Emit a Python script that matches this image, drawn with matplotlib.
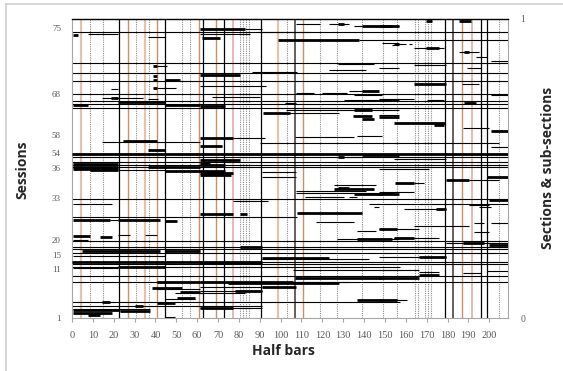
import matplotlib
matplotlib.use("Agg")
import matplotlib.pyplot as plt
from matplotlib.lines import Line2D

# ---------------- data ----------------
x_ticks = list(range(0, 201, 10))
session_labels = ["1", "11", "15", "20", "33", "36", "54", "58", "68", "75"]
session_pos = [0.0, 0.164, 0.211, 0.261, 0.401, 0.502, 0.552, 0.612, 0.749, 0.970]

# vertical markers (half-bar positions)
v_solid = [22.3, 44.8, 62.9, 72.9, 90.5, 178.9, 196.1, 198.7]
v_gray = [106.8, 182.7]
v_orange = [26.7, 40.6, 61.1, 68.8, 110.9, 186.8]
v_light = [4.4, 35.1, 98.8]
v_pink = [77.0, 191.6]
v_dotted = [8.6, 14.7, 30.8, 36.9, 52.5, 56.8, 80.7, 82.1, 83.4, 84.7, 102.9,
            118.9, 126.8, 139.0, 149.1, 156.0, 164.5, 166.0, 169.3, 170.7,
            172.2, 204.9]

# full-width thin lines
full_y = [0.958, 0.852, 0.818, 0.793, 0.748, 0.727, 0.716, 0.701, 0.537, 0.523,
          0.512, 0.506, 0.397, 0.259, 0.238, 0.230, 0.219, 0.180, 0.139, 0.119]

# thin partial segments
thin_y = [0.380, 0.380, 0.337, 0.186, 0.172, 0.055, 0.040, 0.984, 0.982, 0.976,
          0.965, 0.956, 0.949, 0.949, 0.939, 0.930, 0.921, 0.918, 0.918, 0.913,
          0.904, 0.891, 0.874, 0.860, 0.848, 0.847, 0.843, 0.835, 0.835, 0.829,
          0.824, 0.781, 0.776, 0.770, 0.765, 0.760, 0.752, 0.752, 0.746, 0.746,
          0.740, 0.735, 0.731, 0.731, 0.729, 0.729, 0.718, 0.696, 0.685, 0.679,
          0.636, 0.606, 0.610, 0.602, 0.588, 0.584, 0.584, 0.576, 0.573, 0.540,
          0.532, 0.500, 0.495, 0.487, 0.473, 0.462, 0.451, 0.445, 0.426, 0.422,
          0.417, 0.406, 0.406, 0.391, 0.377, 0.370, 0.370, 0.366, 0.328, 0.320,
          0.318, 0.319, 0.308, 0.297, 0.291, 0.289, 0.276, 0.277, 0.267, 0.263,
          0.261, 0.252, 0.208, 0.203, 0.197, 0.166, 0.161, 0.161, 0.155, 0.157,
          0.149, 0.122, 0.105, 0.097, 0.090, 0.083, 0.064, 0.060, 0.060, 0.031,
          0.004, 0.034]
thin_x0 = [0.5, 142.6, 0.0, 90.9, 0.0, 0.0, 0.0, 107.2, 123.0, 135.4,
           82.8, 89.0, 7.7, 61.2, 36.4, 137.8, 148.8, 154.5, 161.7, 153.6,
           164.1, 185.6, 193.8, 201.0, 127.3, 164.1, 40.7, 147.4, 189.5, 123.0,
           86.1, 187.1, 61.2, 40.7, 18.7, 133.0, 107.2, 119.6, 135.4, 201.0,
           67.0, 14.4, 147.4, 36.4, 130.6, 170.3, 101.9, 102.4, 103.3, 147.4,
           187.6, 106.7, 136.8, 77.0, 14.4, 89.9, 154.5, 66.0, 201.0, 127.3,
           154.5, 147.4, 22.0, 90.9, 90.9, 190.4, 164.1, 125.8, 107.2, 147.4,
           107.2, 111.5, 133.0, 77.0, 190.4, 195.2, 145.0, 159.3, 18.2, 117.2,
           192.8, 201.0, 164.1, 147.4, 136.8, 192.8, 22.0, 34.9, 154.5, 126.8,
           0.5, 179.4, 0.5, 147.4, 90.9, 0.5, 105.7, 147.4, 166.5, 199.0,
           187.6, 105.7, 61.2, 40.7, 61.2, 49.3, 44.5, 148.8, 147.4, 0.5,
           44.5, 61.2]
thin_x1 = [19.1, 209.0, 108.0, 209.0, 157.0, 157.0, 91.0, 118.7, 133.0, 156.9,
           90.9, 113.9, 22.0, 85.2, 44.5, 209.0, 156.9, 160.3, 163.2, 156.9,
           178.5, 195.2, 199.0, 209.0, 145.0, 179.4, 45.5, 156.9, 196.2, 141.1,
           107.7, 195.2, 92.8, 49.8, 22.0, 146.4, 115.8, 131.6, 148.8, 209.0,
           89.9, 34.0, 164.1, 41.1, 156.9, 178.5, 107.2, 156.9, 128.2, 156.9,
           200.0, 135.4, 148.8, 92.3, 61.2, 156.9, 204.8, 71.8, 209.0, 139.2,
           179.4, 171.3, 44.5, 107.2, 107.2, 204.8, 168.9, 145.9, 141.1, 164.1,
           154.5, 130.6, 136.8, 93.8, 200.0, 201.0, 147.4, 179.4, 22.0, 135.4,
           197.6, 209.0, 190.4, 166.5, 145.5, 200.0, 27.8, 40.7, 176.1, 156.9,
           7.7, 209.0, 44.5, 179.4, 142.6, 22.0, 156.9, 166.5, 176.1, 209.0,
           196.2, 133.0, 90.9, 61.2, 90.9, 82.8, 58.9, 156.9, 160.8, 37.3,
           49.3, 90.9]

# thick partial segments
thick_y = [0.994, 0.992, 0.982, 0.976, 0.978, 0.965, 0.947, 0.935, 0.930, 0.904,
           0.891, 0.843, 0.812, 0.809, 0.796, 0.796, 0.781, 0.770, 0.760, 0.735,
           0.722, 0.720, 0.712, 0.712, 0.709, 0.696, 0.685, 0.676, 0.671, 0.665,
           0.653, 0.645, 0.625, 0.602, 0.592, 0.576, 0.563, 0.550, 0.545, 0.540,
           0.528, 0.517, 0.516, 0.512, 0.506, 0.506, 0.498, 0.495, 0.492, 0.484,
           0.478, 0.472, 0.462, 0.451, 0.436, 0.430, 0.415, 0.415, 0.395, 0.363,
           0.352, 0.347, 0.347, 0.328, 0.328, 0.325, 0.297, 0.274, 0.270, 0.263,
           0.267, 0.252, 0.244, 0.236, 0.224, 0.224, 0.203, 0.199, 0.186, 0.183,
           0.172, 0.144, 0.133, 0.133, 0.122, 0.119, 0.116, 0.105, 0.099, 0.090,
           0.088, 0.068, 0.060, 0.060, 0.054, 0.049, 0.040, 0.034, 0.027, 0.025,
           0.016, 0.010]
thick_x0 = [185.6, 169.9, 127.3, 139.2, 147.4, 61.2, 0.5, 62.2, 98.6, 169.9,
            188.0, 38.8, 61.2, 38.8, 44.5, 38.8, 164.1, 38.8, 139.2, 18.7,
            22.0, 188.0, 0.5, 44.5, 61.2, 135.4, 91.4, 134.9, 147.4, 138.8,
            154.5, 173.7, 201.0, 61.2, 24.4, 61.2, 36.4, 0.0, 139.2, 127.3,
            61.2, 61.2, 0.5, 61.2, 0.5, 36.4, 0.5, 8.6, 44.5, 61.2,
            61.2, 199.0, 179.4, 155.0, 127.3, 125.8, 135.4, 147.4, 200.0, 174.6,
            107.7, 61.2, 80.4, 0.5, 22.0, 44.5, 147.4, 0.5, 13.4, 136.8,
            154.5, 187.6, 200.0, 80.4, 4.8, 44.5, 166.5, 90.9, 0.0, 61.2,
            22.0, 166.5, 106.7, 147.4, 61.2, 40.7, 74.6, 90.9, 38.3, 78.0,
            51.7, 50.2, 136.8, 147.4, 14.4, 40.7, 30.1, 61.2, 0.5, 23.0,
            0.5, 7.7]
thick_x1 = [191.4, 172.7, 130.6, 153.6, 156.9, 82.8, 2.9, 70.8, 137.8, 176.1,
            190.4, 40.7, 80.4, 40.7, 51.7, 40.7, 179.4, 40.7, 147.4, 22.0,
            44.5, 193.8, 7.7, 61.2, 73.2, 144.0, 104.3, 144.0, 156.9, 145.0,
            178.9, 178.5, 209.0, 77.0, 40.7, 71.8, 44.5, 209.0, 156.9, 130.6,
            80.4, 66.0, 22.0, 73.2, 22.0, 61.2, 22.0, 22.0, 73.2, 77.0,
            76.1, 209.0, 190.4, 164.1, 133.0, 145.0, 148.8, 156.9, 209.0, 179.4,
            139.2, 77.0, 83.7, 18.2, 42.1, 50.2, 156.0, 8.6, 19.1, 153.6,
            164.1, 197.6, 209.0, 90.9, 42.1, 61.2, 179.4, 123.4, 90.9, 90.9,
            44.5, 176.1, 148.8, 166.5, 105.7, 61.2, 128.2, 107.2, 52.6, 90.9,
            61.2, 58.9, 148.8, 156.0, 18.2, 49.3, 34.0, 77.0, 23.0, 37.3,
            19.1, 13.4]

# ---------------- figure ----------------
W, H = 563, 371
fig = plt.figure(figsize=(W / 100, H / 100), dpi=100)
fig.patch.set_facecolor("white")
ax = fig.add_axes([72 / W, 1 - 318 / H, (508 - 72) / W, (318 - 19) / H])
ax.set_xlim(0, 209)
ax.set_ylim(0, 1)

ax.vlines(v_dotted, 0, 1, colors="#8C8C8C", linestyles=(0, (1, 1)), lw=0.8, zorder=1)
ax.vlines(v_light, 0, 1, colors="#E6C3A8", lw=1.6, zorder=1)
ax.vlines(v_pink, 0, 1, colors="#E8B9B5", lw=1.4, zorder=1)
ax.vlines(v_orange, 0, 1, colors="#CC9060", lw=1.0, zorder=1)
ax.vlines(v_gray, 0, 1, colors="#555555", lw=1.3, zorder=1)
ax.vlines(v_solid, 0, 1, colors="#000000", lw=0.9, zorder=1)

ax.hlines(full_y, 0, 209, colors="black", lw=0.8, zorder=2)
ax.hlines(thin_y, thin_x0, thin_x1, colors="black", lw=0.8, zorder=2)
ax.hlines(thick_y, thick_x0, thick_x1, colors="black", lw=2.0, zorder=3)

tick_font = "Liberation Serif"
ax.set_xticks(x_ticks)
ax.set_xticklabels([str(t) for t in x_ticks], fontsize=7.5, family=tick_font, color="#595959")
ax.tick_params(axis="x", direction="out", length=3, color="#A6A6A6", pad=6)
ax.set_yticks(session_pos)
ax.set_yticklabels(session_labels, fontsize=6.5, family=tick_font, color="#595959")
ax.tick_params(axis="y", length=0, pad=8)

for side in ["left", "right", "bottom"]:
    ax.spines[side].set_color("#A6A6A6")
    ax.spines[side].set_linewidth(0.8)
ax.spines["top"].set_color("black")
ax.spines["top"].set_linewidth(1.0)

ax2 = ax.twinx()
ax2.set_ylim(0, 1)
ax2.set_yticks([0, 1])
ax2.set_yticklabels(["0", "1"], fontsize=7, family=tick_font, color="#595959")
ax2.tick_params(axis="y", length=0, pad=9)
for s in ax2.spines.values():
    s.set_visible(False)

lab_font = "Open Sans"
fig.text(283 / W, 1 - 351 / H, "Half bars", ha="center", va="center",
         fontsize=10, fontweight="bold", family=lab_font, color="#262626")
fig.text(22 / W, 1 - 170 / H, "Sessions", ha="center", va="center", rotation=90,
         fontsize=10, fontweight="bold", family=lab_font, color="#262626")
fig.text(548 / W, 1 - 168 / H, "Sections & sub-sections", ha="center", va="center",
         rotation=90, fontsize=10, fontweight="bold", family=lab_font, color="#262626")

# chart-area border
fig.add_artist(Line2D([6 / W, 6 / W], [0, 1 - 4 / H], transform=fig.transFigure,
                      color="#D0D0D0", lw=1.2))
fig.add_artist(Line2D([6 / W, 1], [1 - 4 / H, 1 - 4 / H], transform=fig.transFigure,
                      color="#D0D0D0", lw=1.2))

fig.savefig("out.png", dpi=100)
